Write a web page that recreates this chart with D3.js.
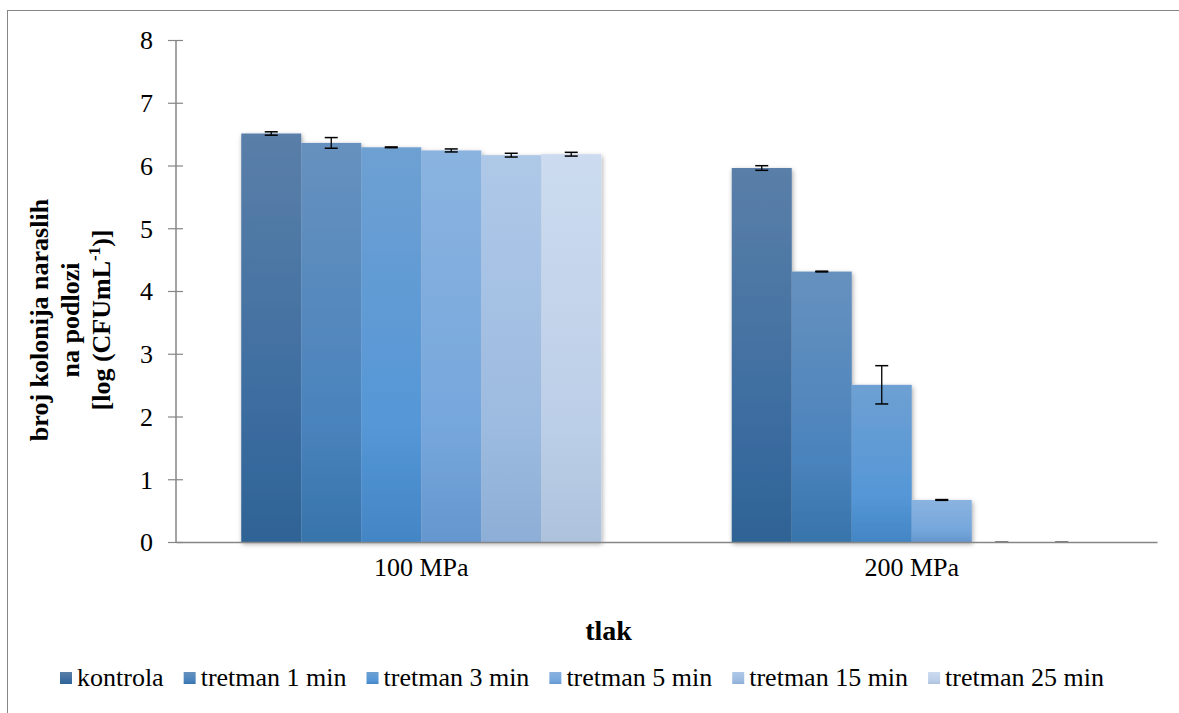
<!DOCTYPE html>
<html>
<head>
<meta charset="utf-8">
<script src="https://cdn.jsdelivr.net/npm/d3@7"></script>
<style>
  html, body { margin: 0; padding: 0; background: #fff; }
  svg, svg text { font-family: 'Liberation Serif', 'Times New Roman', Times, serif !important; }
</style>
</head>
<body>
<svg id="chart" width="1179" height="713"></svg>
<script>
// ---- data ----
const categories = ["100 MPa", "200 MPa"];
const seriesNames = ["kontrola", "tretman 1 min", "tretman 3 min", "tretman 5 min", "tretman 15 min", "tretman 25 min"];
const values100 = [6.51, 6.36, 6.29, 6.24, 6.165, 6.18];
const errors100 = [0.027, 0.085, 0.006, 0.024, 0.03, 0.03];
const values200 = [5.96, 4.31, 2.505, 0.67, 0, 0];
const errors200 = [0.037, 0.006, 0.305, 0.006, 0, 0];
const yTicks = [0, 1, 2, 3, 4, 5, 6, 7, 8];
const yTitleLines = ["broj kolonija naraslih", "na podlozi"];
const xTitle = "tlak";

// gradient colours per series: [top, middle, bottom]
const seriesColors = [
  ["#5a7fa8", "#3b6ca0", "#2f6395"],
  ["#6691be", "#4a83bd", "#3774ab"],
  ["#6ea0d2", "#5597d7", "#4385c5"],
  ["#8ab3e0", "#76a7dc", "#6597cf"],
  ["#aec8e8", "#9dbbe0", "#8daed6"],
  ["#ccdbef", "#bccfe8", "#aec2dd"]
];

const FONT = "'Liberation Serif', 'Times New Roman', Times, serif";

const table = categories.map((c, i) => ({
  cat: c,
  vals: (i === 0 ? values100 : values200).map((v, j) => ({
    s: seriesNames[j], j: j, v: v, e: (i === 0 ? errors100 : errors200)[j]
  }))
}));

const svg = d3.select("#chart");
const defs = svg.append("defs");

seriesColors.forEach((c, i) => {
  const g = defs.append("linearGradient").attr("id", "grad" + i)
    .attr("x1", 0).attr("y1", 0).attr("x2", 0).attr("y2", 1);
  g.append("stop").attr("offset", "0%").attr("stop-color", c[0]);
  g.append("stop").attr("offset", "70%").attr("stop-color", c[1]);
  g.append("stop").attr("offset", "100%").attr("stop-color", c[2]);
});

const f = defs.append("filter").attr("id", "shadow")
  .attr("x", "-10%").attr("y", "-10%").attr("width", "120%").attr("height", "120%");
f.append("feDropShadow").attr("dx", 1).attr("dy", 2).attr("stdDeviation", 2.5)
  .attr("flood-color", "#000").attr("flood-opacity", 0.35);

// outer border
svg.append("rect").attr("x", 7.5).attr("y", 10.5).attr("width", 1300).attr("height", 800)
  .attr("fill", "none").attr("stroke", "#868686").attr("stroke-width", 1);

const plotL = 176, plotR = 1157, plotT = 40, plotB = 542;

const x0 = d3.scaleBand().domain(categories).range([plotL, plotR]).padding(0);
const x1 = d3.scaleBand().domain(seriesNames).range([0, x0.bandwidth()])
  .paddingInner(0).paddingOuter(1.0875);
const y = d3.scaleLinear().domain([0, 8]).range([plotB, plotT]);

// bars
const groups = svg.append("g").selectAll("g.cat").data(table).join("g")
  .attr("class", "cat")
  .attr("transform", d => `translate(${x0(d.cat)},0)`);

groups.append("g").attr("filter", "url(#shadow)")
  .selectAll("rect").data(d => d.vals.filter(v => v.v > 0)).join("rect")
  .attr("x", d => x1(d.s))
  .attr("y", d => y(d.v))
  .attr("width", x1.bandwidth())
  .attr("height", d => y(0) - y(d.v))
  .attr("fill", d => `url(#grad${d.j})`);

// x axis baseline
const xAxis = d3.axisBottom(x0).tickSize(0).tickPadding(14);
const xg = svg.append("g").attr("transform", `translate(0,${plotB})`).call(xAxis);
xg.attr("font-family", null).attr("font-size", null);
xg.select(".domain").attr("stroke", "#868686").attr("stroke-width", 1.5);
xg.selectAll(".tick text").style("font-size", "26px").attr("fill", "#000")
  .style("font-family", FONT)
  .attr("dy", "0.76em");

// error bars
const capW = 6.5;
const eb = groups.append("g").selectAll("g.err").data(d => d.vals).join("g")
  .attr("class", "err")
  .attr("transform", d => `translate(${x1(d.s) + x1.bandwidth() / 2},0)`);
eb.append("line").attr("x1", 0).attr("x2", 0)
  .attr("y1", d => y(d.v + d.e)).attr("y2", d => y(Math.max(0, d.v - d.e)))
  .attr("stroke", "#000").attr("stroke-width", 1.3);
eb.append("line").attr("x1", -capW).attr("x2", capW)
  .attr("y1", d => y(d.v + d.e)).attr("y2", d => y(d.v + d.e))
  .attr("stroke", d => d.v > 0 ? "#000" : "#777").attr("stroke-width", 1.5);
eb.append("line").attr("x1", -capW).attr("x2", capW)
  .attr("y1", d => y(Math.max(0, d.v - d.e))).attr("y2", d => y(Math.max(0, d.v - d.e)))
  .attr("stroke", d => d.v > 0 ? "#000" : "#777").attr("stroke-width", 1.5);

// y axis
const yAxis = d3.axisLeft(y).tickValues(yTicks).tickFormat(d3.format("d")).tickSize(8).tickPadding(15);
const yg = svg.append("g").attr("transform", `translate(${plotL},0)`).call(yAxis);
yg.attr("font-family", null).attr("font-size", null);
yg.select(".domain").attr("stroke", "#868686").attr("stroke-width", 1.5).attr("d", `M0,${plotT}V${plotB}`);
yg.selectAll(".tick line").attr("stroke", "#868686").attr("stroke-width", 1.2)
  .attr("x1", -8).attr("x2", 7);
yg.selectAll(".tick text").style("font-size", "26px").attr("fill", "#000")
  .style("font-family", FONT)
  .attr("x", -23).attr("dy", "0.34em");

// y title
const yt = svg.append("g").attr("transform", "translate(0,320) rotate(-90)");
const lineX = [48, 79, 110];
yTitleLines.forEach((t, i) => {
  yt.append("text").attr("x", 0).attr("y", lineX[i]).attr("text-anchor", "middle")
    .style("font-family", FONT).style("font-size", "26px").attr("font-weight", "bold").text(t);
});
const t3 = yt.append("text").attr("x", 0).attr("y", lineX[2]).attr("text-anchor", "middle")
  .style("font-family", FONT).style("font-size", "26px").attr("font-weight", "bold");
t3.append("tspan").text("[log (CFUmL");
t3.append("tspan").style("font-size", "17px").attr("dy", -10).text("-1");
t3.append("tspan").attr("dy", 10).text(")]");

// x title
svg.append("text").attr("x", (plotL + plotR) / 2 - 58).attr("y", 640)
  .attr("text-anchor", "middle").style("font-family", FONT).style("font-size", "28px")
  .attr("font-weight", "bold").text(xTitle);

// legend
const leg = svg.append("g");
let lx = 60;
seriesNames.forEach((s, i) => {
  leg.append("rect").attr("x", lx).attr("y", 672).attr("width", 12).attr("height", 12)
    .attr("fill", `url(#grad${i})`);
  const t = leg.append("text").attr("x", lx + 17).attr("y", 686)
    .style("font-family", FONT).style("font-size", "26px").text(s);
  lx = lx + 17 + t.node().getComputedTextLength() + 20;
});
</script>
</body>
</html>
